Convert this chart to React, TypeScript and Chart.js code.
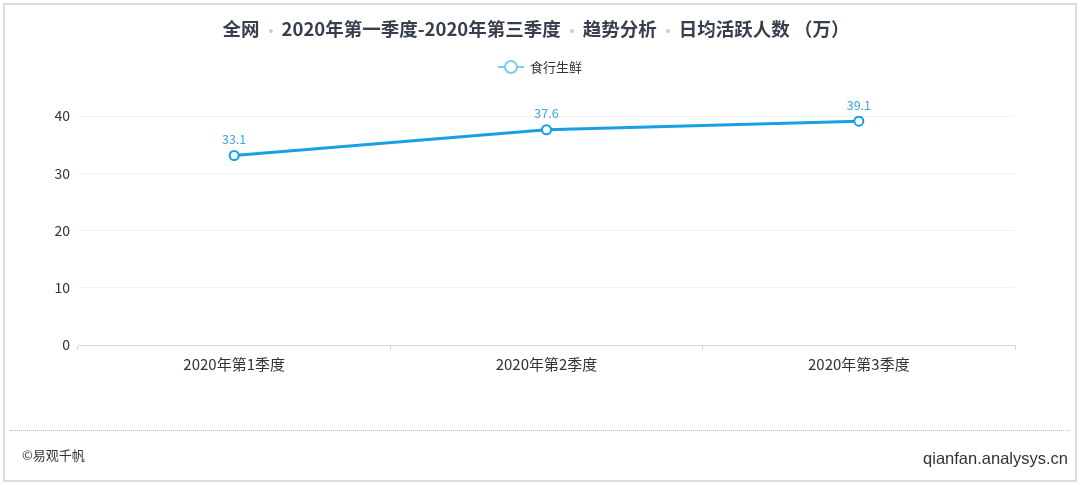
import React, { useEffect, useRef } from "react";
import { Chart, registerables } from "chart.js";

Chart.register(...registerables);

const categories = ["2020年第1季度", "2020年第2季度", "2020年第3季度"];
const seriesName = "食行生鲜";
const seriesValues = [33.1, 37.6, 39.1];
const yTicks = [0, 10, 20, 30, 40];

const LINE_COLOR = "#189fe4";
const LABEL_COLOR = "#3aa6e2";
const FONT = "'Noto Sans CJK SC', 'Noto Sans', sans-serif";

const valueLabels = {
  id: "valueLabels",
  afterDatasetsDraw(chart: any) {
    const ctx = chart.ctx;
    const meta = chart.getDatasetMeta(0);
    ctx.save();
    ctx.fillStyle = LABEL_COLOR;
    ctx.font = `12.5px ${FONT}`;
    ctx.textAlign = "center";
    ctx.textBaseline = "middle";
    meta.data.forEach((pt: any, i: number) => {
      ctx.fillText(String(seriesValues[i]), pt.x, pt.y - 16);
    });
    ctx.restore();
  },
};

export default function App() {
  const ref = useRef<HTMLCanvasElement | null>(null);
  useEffect(() => {
    document.body.style.margin = "0";
    const chart = new Chart(ref.current!, {
      type: "line",
      data: {
        labels: categories,
        datasets: [
          {
            label: seriesName,
            data: seriesValues,
            borderColor: LINE_COLOR,
            backgroundColor: "#ffffff",
            borderWidth: 3,
            pointRadius: 4.5,
            pointBorderWidth: 2,
            pointBackgroundColor: "#ffffff",
            pointBorderColor: LINE_COLOR,
            tension: 0,
          },
        ],
      },
      options: {
        animation: false,
        responsive: false,
        maintainAspectRatio: false,
        layout: { padding: { top: 116, right: 65, bottom: 100, left: 0 } },
        plugins: { legend: { display: false }, title: { display: false }, tooltip: { enabled: false } },
        scales: {
          x: {
            offset: true,
            grid: { offset: true, drawOnChartArea: false, drawTicks: true, tickLength: 5, color: "#d6d6d6" },
            border: { display: true, color: "#d6d6d6" },
            ticks: { color: "#333", font: { family: FONT, size: 15 }, padding: 5 },
            afterFit(scale: any) {
              scale.height = 40;
            },
          },
          y: {
            min: 0,
            max: 40,
            afterBuildTicks(scale: any) {
              scale.ticks = yTicks.map((v) => ({ value: v }));
            },
            grid: { color: "#f2f2f2", drawTicks: false },
            border: { display: false },
            ticks: { color: "#333", font: { family: FONT, size: 14 }, padding: 8 },
            afterFit(scale: any) {
              scale.width = 78;
            },
          },
        },
      },
      plugins: [valueLabels],
    });
    return () => chart.destroy();
  }, []);

  const dot = (
    <span style={{ display: "inline-block", width: 4, height: 4, borderRadius: 2, background: "#c8cdd4", margin: "0 9px", verticalAlign: "middle" }} />
  );

  return (
    <div style={{ position: "relative", width: 1080, height: 485, background: "#fff", overflow: "hidden", fontFamily: FONT }}>
      <div style={{ position: "absolute", left: 3, top: 3, width: 1070, height: 475, border: "2px solid #dcdcdc" }} />
      <canvas ref={ref} width={1080} height={485} style={{ position: "absolute", left: 0, top: 0, width: 1080, height: 485 }} />
      <div style={{ position: "absolute", left: 0, top: 15, width: 1072, textAlign: "center", fontSize: 18.5, fontWeight: 700, color: "#373e4d", lineHeight: "26px", whiteSpace: "nowrap" }}>
        全网{dot}2020年第一季度-2020年第三季度{dot}趋势分析{dot}日均活跃人数 （万）
      </div>
      <div style={{ position: "absolute", left: 0, top: 57, width: 1080, textAlign: "center", fontSize: 13, color: "#333", lineHeight: "20px", whiteSpace: "nowrap" }}>
        <span style={{ display: "inline-block", position: "relative", width: 26, height: 14, verticalAlign: "middle", marginRight: 6, top: -1 }}>
          <span style={{ position: "absolute", left: 0, top: 6, width: 26, height: 2, background: "#7ccbf0" }} />
          <span style={{ position: "absolute", left: 6, top: 0, width: 10, height: 10, borderRadius: 7, border: "2px solid #7ccbf0", background: "#fff" }} />
        </span>
        {seriesName}
      </div>
      <div style={{ position: "absolute", left: 10, top: 430, width: 1060, borderTop: "1px dotted #bdbdbd" }} />
      <div style={{ position: "absolute", left: 22, top: 446, fontSize: 13, color: "#333", lineHeight: "18px" }}>©易观千帆</div>
      <div style={{ position: "absolute", right: 12, top: 447, fontSize: 16.5, color: "#333", lineHeight: "22px", fontFamily: "'Liberation Sans', Arial, sans-serif" }}>qianfan.analysys.cn</div>
    </div>
  );
}
